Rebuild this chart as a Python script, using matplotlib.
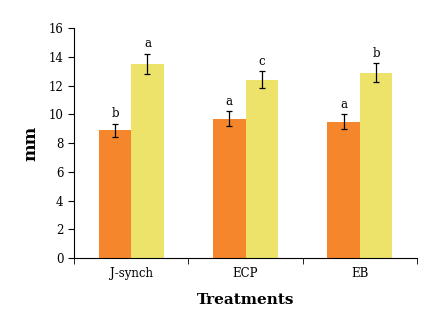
import numpy as np
import matplotlib.pyplot as plt

# treatment groups and the two measured series
treatments = ["J-synch", "ECP", "EB"]
orange_vals = [8.9, 9.7, 9.5]
orange_err = [0.45, 0.5, 0.5]
orange_letters = ["b", "a", "a"]
yellow_vals = [13.5, 12.4, 12.9]
yellow_err = [0.7, 0.6, 0.65]
yellow_letters = ["a", "c", "b"]

plt.rcParams['font.family'] = ['DejaVu Serif']

fig = plt.figure(figsize=(4.46, 3.29), dpi=100)
ax = fig.add_axes([0.166, 0.215, 0.769, 0.70])

x = np.arange(len(treatments))
w = 0.284
ax.bar(x - w/2, orange_vals, w, color='#F5862C', yerr=orange_err,
       error_kw=dict(ecolor='black', elinewidth=0.9, capsize=2, capthick=0.9))
ax.bar(x + w/2, yellow_vals, w, color='#EDE36B', yerr=yellow_err,
       error_kw=dict(ecolor='black', elinewidth=0.9, capsize=2, capthick=0.9))

for i in range(len(treatments)):
    ax.text(x[i] - w/2, orange_vals[i] + orange_err[i] + 0.25, orange_letters[i],
            ha='center', va='bottom', fontsize=8.5)
    ax.text(x[i] + w/2, yellow_vals[i] + yellow_err[i] + 0.25, yellow_letters[i],
            ha='center', va='bottom', fontsize=8.5)

ax.set_xlim(-0.5, 2.5)
ax.set_ylim(0, 16)
ax.set_yticks(range(0, 17, 2))
ax.set_xticks(x)
ax.set_xticklabels(treatments, fontsize=8.5)
ax.set_xticks([-0.5, 0.5, 1.5, 2.5], minor=True)
ax.tick_params(axis='x', which='major', length=0, pad=6)
ax.tick_params(axis='x', which='minor', length=4, direction='out')
ax.tick_params(axis='y', labelsize=8.5, length=4, direction='out')

for s in ['top', 'right']:
    ax.spines[s].set_visible(False)

ax.set_ylabel("mm", fontsize=12, fontweight='bold', labelpad=7)
ax.set_xlabel("Treatments", fontsize=11, fontweight='bold', labelpad=10)

fig.savefig("out.png", dpi=100)
